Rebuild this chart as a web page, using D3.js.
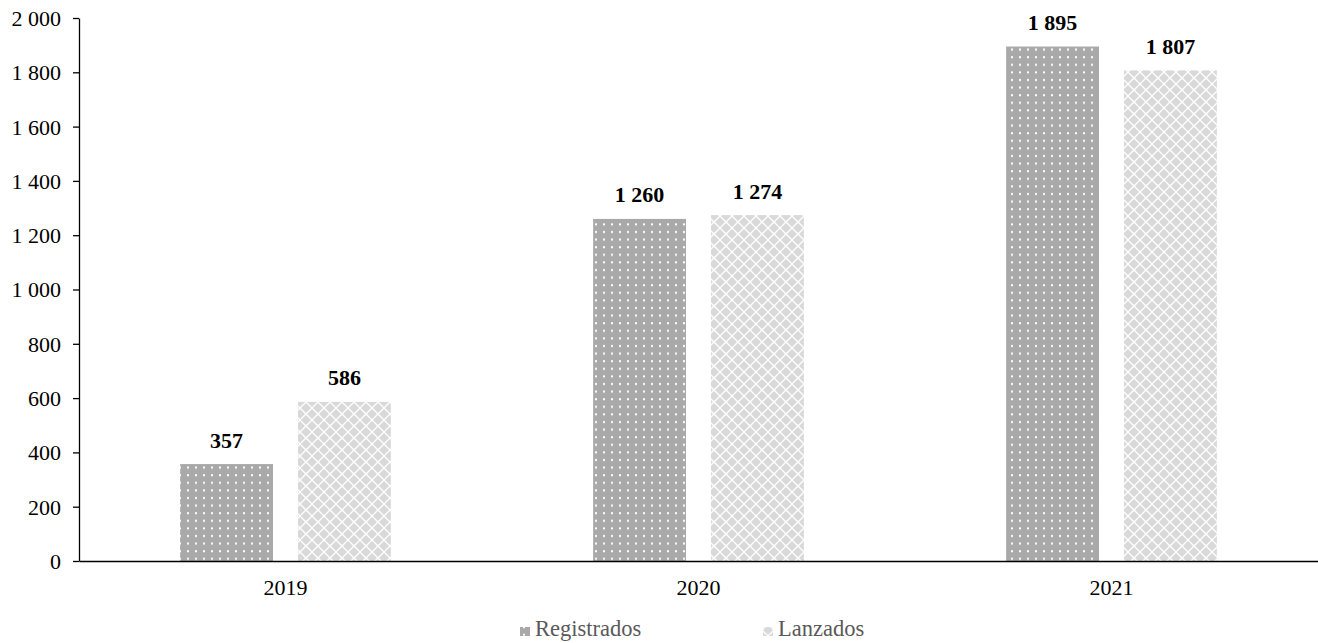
<!DOCTYPE html>
<html><head><meta charset="utf-8">
<script src="https://cdn.jsdelivr.net/npm/d3@7"></script>
<style>body{margin:0;background:#fff}svg{display:block}
svg text{font-family:"Liberation Serif","Times New Roman",serif !important}</style>
</head><body>
<svg id="c" width="1318" height="643"></svg>
<script>
const categories = ["2019","2020","2021"];
const seriesNames = ["Registrados","Lanzados"];
const registrados = [357,1260,1895];
const lanzados = [586,1274,1807];
const yTicks = [0,200,400,600,800,1000,1200,1400,1600,1800,2000];

const svg = d3.select("#c");
const W=1318,H=643;
const m={l:79,r:0,t:18,b:82};
const FONT = "'Liberation Serif','Times New Roman',serif";
const fmt = v => d3.format(",")(v).replace(/,/g," ");

const defs = svg.append("defs");
const p1 = defs.append("pattern").attr("id","dots").attr("patternUnits","userSpaceOnUse").attr("width",8).attr("height",7.6);
p1.append("rect").attr("width",8).attr("height",7.6).attr("fill","#a9a9a9");
p1.append("rect").attr("x",3).attr("y",3).attr("width",2).attr("height",2).attr("fill","#fff");
const p2 = defs.append("pattern").attr("id","cross").attr("patternUnits","userSpaceOnUse").attr("width",12).attr("height",12);
p2.append("rect").attr("width",12).attr("height",12).attr("fill","#d9d9d9");
p2.append("path").attr("d","M0,0L12,12M12,0L0,12").attr("stroke","#fff").attr("stroke-width",1.3);
const fills=["url(#dots)","url(#cross)"];

const x = d3.scaleBand().domain(categories).range([m.l,W-m.r]).paddingInner(0).paddingOuter(0);
const y = d3.scaleLinear().domain([0,2000]).range([H-m.b,m.t]);
const x1 = d3.scaleBand().domain(seriesNames).range([0,x.bandwidth()]).paddingInner(0.212).paddingOuter(0.858);

const data = categories.map((c,i)=>({c,vals:[registrados[i],lanzados[i]]}));
const g = svg.append("g");
data.forEach(d=>{
  d.vals.forEach((v,j)=>{
    const bx = x(d.c)+x1(seriesNames[j]);
    g.append("rect").attr("x",bx).attr("y",y(v)).attr("width",x1.bandwidth()).attr("height",y(0)-y(v)).attr("fill",fills[j]);
    g.append("text").attr("x",bx+x1.bandwidth()/2).attr("y",y(v)-16.5).attr("text-anchor","middle")
      .attr("font-family",FONT).attr("font-weight","bold").attr("font-size",22).text(fmt(v));
  });
});

const ya = svg.append("g").attr("transform",`translate(${m.l},0)`)
  .call(d3.axisLeft(y).tickValues(yTicks).tickSize(6).tickSizeOuter(0).tickFormat(fmt));
ya.attr("font-family",FONT);
ya.selectAll("text").attr("font-family",FONT).attr("font-size",22).attr("fill","#000").attr("x",-18).attr("dy","0.34em");
ya.select(".domain").attr("stroke","#000").attr("stroke-width",1.3);
ya.selectAll(".tick line").attr("stroke","#000").attr("stroke-width",1.3);

const xa = svg.append("g").attr("transform",`translate(0,${y(0)})`)
  .call(d3.axisBottom(x).tickSize(0).tickSizeOuter(0));
xa.attr("font-family",FONT);
xa.selectAll("text").attr("font-family",FONT).attr("font-size",22).attr("fill","#000").attr("y",34).attr("dy","0");
xa.select(".domain").attr("stroke","#000").attr("stroke-width",1.5);

const legX=[520,763];
const lg = svg.append("g");
seriesNames.forEach((s,j)=>{
  lg.append("rect").attr("x",legX[j]).attr("y",627).attr("width",10).attr("height",9).attr("fill",fills[j]);
  lg.append("text").attr("x",legX[j]+15).attr("y",636).attr("font-family",FONT).attr("font-size",22.5).attr("fill","#595959").text(s);
});
</script>
</body></html>
